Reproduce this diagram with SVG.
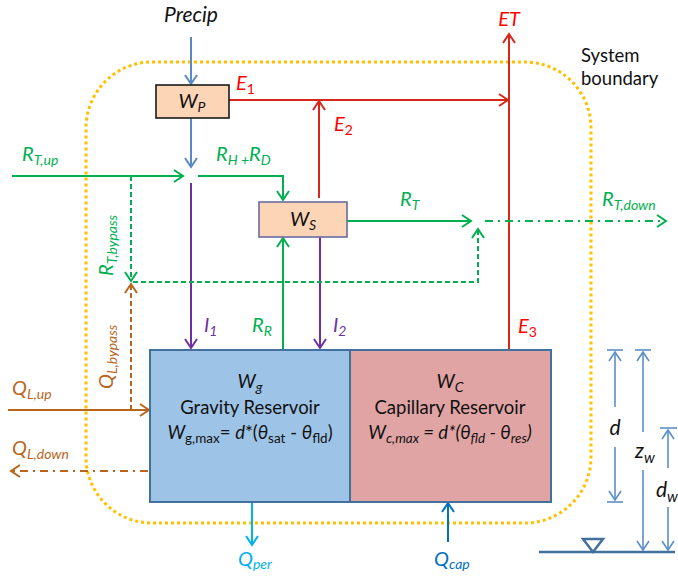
<svg xmlns="http://www.w3.org/2000/svg" width="678" height="577" viewBox="0 0 678 577">
<style>
text{font-family:"Lato","Open Sans","Liberation Sans",sans-serif;}
.it{font-style:italic;}
.lbl{font-size:20px;font-style:italic;}
.sub{font-size:14px;}
.ln{fill:none;stroke-width:2;}
.g{stroke:#00b050;}
.r{stroke:#d8261a;}
.p{stroke:#7030a0;}
.b{stroke:#5a8ac6;}
.br{stroke:#b9661c;}
.dash{stroke-dasharray:5 3;}
.dd{stroke-dasharray:8 5 2 5;}
.dim{stroke:#5b8fc7;stroke-width:1.6;fill:none;}
</style>
<defs>
<marker id="aG" markerUnits="userSpaceOnUse" markerWidth="14" markerHeight="14" refX="0" refY="0" orient="auto" overflow="visible"><path d="M-9,-6 L0,0 L-9,6" fill="none" stroke="#00b050" stroke-width="2"/></marker>
<marker id="aR" markerUnits="userSpaceOnUse" markerWidth="14" markerHeight="14" refX="0" refY="0" orient="auto" overflow="visible"><path d="M-9,-6 L0,0 L-9,6" fill="none" stroke="#d8261a" stroke-width="2"/></marker>
<marker id="aP" markerUnits="userSpaceOnUse" markerWidth="14" markerHeight="14" refX="0" refY="0" orient="auto" overflow="visible"><path d="M-9,-6 L0,0 L-9,6" fill="none" stroke="#7030a0" stroke-width="2"/></marker>
<marker id="aB" markerUnits="userSpaceOnUse" markerWidth="14" markerHeight="14" refX="0" refY="0" orient="auto" overflow="visible"><path d="M-9,-6 L0,0 L-9,6" fill="none" stroke="#5a8ac6" stroke-width="2"/></marker>
<marker id="aBr" markerUnits="userSpaceOnUse" markerWidth="14" markerHeight="14" refX="0" refY="0" orient="auto" overflow="visible"><path d="M-9,-6 L0,0 L-9,6" fill="none" stroke="#b9661c" stroke-width="2"/></marker>
<marker id="aY" markerUnits="userSpaceOnUse" markerWidth="14" markerHeight="14" refX="0" refY="0" orient="auto" overflow="visible"><path d="M-9,-6 L0,0 L-9,6" fill="none" stroke="#ffff00" stroke-width="2"/></marker>
<marker id="aC" markerUnits="userSpaceOnUse" markerWidth="14" markerHeight="14" refX="0" refY="0" orient="auto" overflow="visible"><path d="M-9,-6 L0,0 L-9,6" fill="none" stroke="#00b0f0" stroke-width="2"/></marker>
<marker id="aQ" markerUnits="userSpaceOnUse" markerWidth="14" markerHeight="14" refX="0" refY="0" orient="auto" overflow="visible"><path d="M-9,-6 L0,0 L-9,6" fill="none" stroke="#0070c0" stroke-width="2"/></marker>
<marker id="aD" markerUnits="userSpaceOnUse" markerWidth="14" markerHeight="14" refX="0" refY="0" orient="auto" overflow="visible"><path d="M-9,-6 L0,0 L-9,6" fill="none" stroke="#5b8fc7" stroke-width="1.6"/></marker>
</defs>
<rect width="678" height="577" fill="#ffffff"/>

<g id="boundary">
<rect x="86" y="62" width="505" height="461" rx="66" ry="66" fill="none" stroke="#ffc000" stroke-width="3" stroke-dasharray="3 3"/>
<text x="581" y="62" font-size="18.5" fill="#111">System</text>
<text x="581" y="85" font-size="18.5" fill="#111">boundary</text>
</g>

<g id="connectors">
<line class="ln b" x1="191" y1="37" x2="191" y2="84" marker-end="url(#aB)"/>
<line class="ln b" x1="191" y1="118" x2="191" y2="167" marker-end="url(#aB)"/>
<line class="ln g" x1="12" y1="176" x2="183" y2="176" marker-end="url(#aG)"/>
<path class="ln g" d="M198,176 H283 V200" marker-end="url(#aG)"/>
<line class="ln p" x1="191" y1="183" x2="191" y2="348" marker-end="url(#aP)"/>
<line class="ln r" x1="229" y1="100" x2="508" y2="100" marker-end="url(#aR)"/>
<line class="ln r" x1="319" y1="198" x2="319" y2="101" marker-end="url(#aR)"/>
<line class="ln r" x1="509" y1="350" x2="509" y2="34" marker-end="url(#aR)"/>
<line class="ln p" x1="320" y1="237" x2="320" y2="348" marker-end="url(#aP)"/>
<line class="ln g" x1="283" y1="350" x2="283" y2="238" marker-end="url(#aG)"/>
<line class="ln g" x1="347" y1="221" x2="471" y2="221" marker-end="url(#aG)"/>
<line class="ln g dd" x1="485" y1="221" x2="666" y2="221" marker-end="url(#aG)"/>
<path class="ln g dash" d="M131,176 V281" marker-end="url(#aG)"/>
<path class="ln g dash" d="M133,282 H478 V229" marker-end="url(#aG)"/>
<path class="ln br dash" d="M131,410 V284" marker-end="url(#aBr)"/>
<line class="ln br" x1="8" y1="410" x2="149" y2="410" marker-end="url(#aBr)"/>
<line class="ln br dd" x1="148" y1="471" x2="11" y2="471" marker-end="url(#aBr)"/>
<line class="ln" stroke="#ffff00" x1="335" y1="471" x2="371" y2="471" marker-end="url(#aY)"/>
<line class="ln" stroke="#00b0f0" x1="252" y1="502" x2="252" y2="545" marker-end="url(#aC)"/>
<line class="ln" stroke="#0070c0" x1="448" y1="542" x2="448" y2="503" marker-end="url(#aQ)"/>
</g>

<g id="labels">
<text x="191" y="22" font-size="21" class="it" text-anchor="middle" fill="#111">Precip</text>
<text x="509" y="26" class="lbl" text-anchor="middle" fill="#ff0000">ET</text>
<text x="236" y="90" class="lbl" fill="#ff0000">E<tspan class="sub" dy="4" font-style="normal">1</tspan></text>
<text x="334" y="131" class="lbl" fill="#ff0000">E<tspan class="sub" dy="4" font-style="normal">2</tspan></text>
<text x="518" y="333" class="lbl" fill="#ff0000">E<tspan class="sub" dy="4" font-style="normal">3</tspan></text>
<text x="22" y="161" class="lbl" fill="#00b050">R<tspan class="sub" dy="4">T,up</tspan></text>
<text x="216" y="161" class="lbl" fill="#00b050">R<tspan class="sub" dy="4">H +</tspan><tspan dy="-4">R</tspan><tspan class="sub" dy="4">D</tspan></text>
<text x="400" y="206" class="lbl" fill="#00b050">R<tspan class="sub" dy="4">T</tspan></text>
<text x="602" y="206" class="lbl" fill="#00b050">R<tspan class="sub" dy="4">T,down</tspan></text>
<text transform="translate(113,276) rotate(-90)" class="lbl" fill="#00b050">R<tspan class="sub" dy="4">T,bypass</tspan></text>
<text transform="translate(113,389) rotate(-90)" class="lbl" fill="#b9661c">Q<tspan class="sub" dy="4">L,bypass</tspan></text>
<text x="12" y="395" class="lbl" fill="#b9661c">Q<tspan class="sub" dy="4">L,up</tspan></text>
<text x="12" y="455" class="lbl" fill="#b9661c">Q<tspan class="sub" dy="4">L,down</tspan></text>
<text x="204" y="332" class="lbl" fill="#7030a0">I<tspan class="sub" dy="4">1</tspan></text>
<text x="333" y="332" class="lbl" fill="#7030a0">I<tspan class="sub" dy="4">2</tspan></text>
<text x="252" y="332" class="lbl" fill="#00b050">R<tspan class="sub" dy="4">R</tspan></text>
<text x="292" y="476" class="lbl" fill="#ffff00">Q<tspan class="sub" dy="3" font-style="normal" font-size="15">as</tspan></text>
<text x="238" y="566" class="lbl" fill="#00b0f0">Q<tspan class="sub" dy="3">per</tspan></text>
<text x="434" y="566" class="lbl" fill="#0070c0">Q<tspan class="sub" dy="3">cap</tspan></text>
</g>

<g id="Wp">
<rect x="156" y="85" width="73" height="33" fill="#fbd5b5" stroke="#1a1a1a" stroke-width="1.6"/>
<text x="192" y="108" class="lbl" text-anchor="middle" fill="#111">W<tspan class="sub" dy="4">P</tspan></text>
</g>

<g id="Ws">
<rect x="259" y="202" width="88" height="35" fill="#fbd5b5" stroke="#6b6ba3" stroke-width="1.6"/>
<text x="303" y="226" class="lbl" text-anchor="middle" fill="#111">W<tspan class="sub" dy="4">S</tspan></text>
</g>

<g id="Wg">
<rect x="150" y="350" width="200" height="152" fill="#9dc3e6" stroke="#41719c" stroke-width="2"/>
<text x="250" y="388" font-size="19" class="it" text-anchor="middle" fill="#111">W<tspan font-size="14" dy="4">g</tspan></text>
<text x="250" y="414" font-size="18.5" text-anchor="middle" fill="#111">Gravity Reservoir</text>
<text x="250" y="439" font-size="18.5" text-anchor="middle" fill="#111"><tspan class="it">W</tspan><tspan font-size="13.5" dy="4">g,max</tspan><tspan dy="-4">= </tspan><tspan class="it">d</tspan>*(<tspan class="it">θ</tspan><tspan font-size="13.5" dy="4">sat</tspan><tspan dy="-4"> - </tspan><tspan class="it">θ</tspan><tspan font-size="13.5" dy="4">fld</tspan><tspan dy="-4">)</tspan></text>
</g>

<g id="Wc">
<rect x="350" y="350" width="201" height="152" fill="#e0a4a4" stroke="#41719c" stroke-width="2"/>
<text x="450" y="388" font-size="19" class="it" text-anchor="middle" fill="#111">W<tspan font-size="14" dy="4">C</tspan></text>
<text x="450" y="414" font-size="18.5" text-anchor="middle" fill="#111">Capillary Reservoir</text>
<text x="450" y="439" font-size="18.5" class="it" text-anchor="middle" fill="#111">W<tspan font-size="13.5" dy="4">c,max</tspan><tspan dy="-4"> = d*(θ</tspan><tspan font-size="13.5" dy="4">fld</tspan><tspan dy="-4"> - θ</tspan><tspan font-size="13.5" dy="4">res</tspan><tspan dy="-4">)</tspan></text>
</g>

<g id="dimensions">
<line class="dim" x1="607" y1="350" x2="623" y2="350"/>
<line class="dim" x1="607" y1="502" x2="623" y2="502"/>
<line class="dim" x1="615" y1="407" x2="615" y2="352" marker-end="url(#aD)"/>
<line class="dim" x1="615" y1="447" x2="615" y2="500" marker-end="url(#aD)"/>
<text x="615" y="435" font-size="21" class="it" text-anchor="middle" fill="#111">d</text>
<line class="dim" x1="635" y1="350" x2="651" y2="350"/>
<line class="dim" x1="643" y1="432" x2="643" y2="352" marker-end="url(#aD)"/>
<line class="dim" x1="643" y1="470" x2="643" y2="550" marker-end="url(#aD)"/>
<text x="635" y="458" font-size="21" class="it" fill="#111">z<tspan font-size="15" dy="5">w</tspan></text>
<line class="dim" x1="660" y1="428" x2="677" y2="428"/>
<line class="dim" x1="668" y1="468" x2="668" y2="430" marker-end="url(#aD)"/>
<line class="dim" x1="668" y1="507" x2="668" y2="550" marker-end="url(#aD)"/>
<text x="656" y="497" font-size="21" class="it" fill="#111">d<tspan font-size="15" dy="5">w</tspan></text>
<line x1="539" y1="552" x2="675" y2="552" stroke="#41719c" stroke-width="2.5"/>
<polygon points="583,539 603,539 593,552" fill="#ffffff" stroke="#41719c" stroke-width="2.5" stroke-linejoin="miter"/>
</g>
</svg>
